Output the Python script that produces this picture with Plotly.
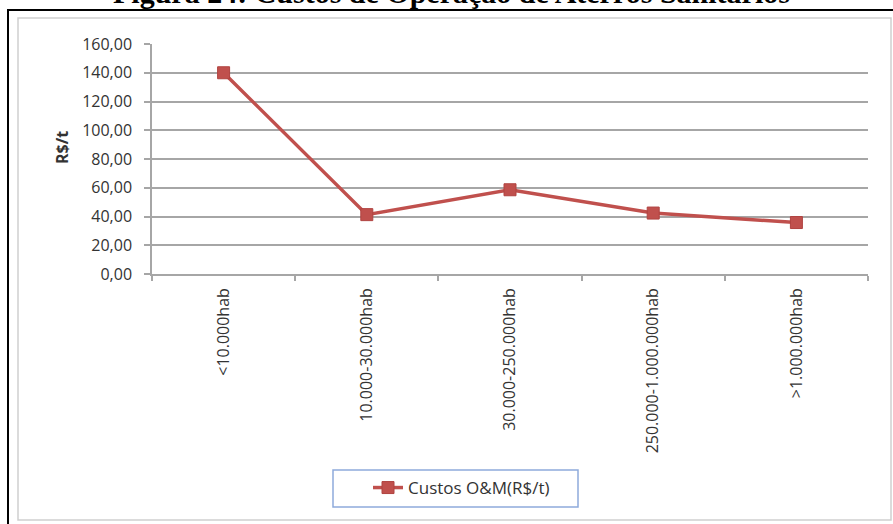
import plotly.graph_objects as go

categories = ["<10.000hab", "10.000-30.000hab", "30.000-250.000hab",
              "250.000-1.000.000hab", ">1.000.000hab"]
custos = [140.0, 41.3, 58.6, 42.4, 35.8]
series_name = "Custos O&M(R$/t)"
title_text = "<b>Figura 24: Custos de Operação de Aterros Sanitários</b>"
y_title = "<b>R$/t</b>"

W, H = 893, 524
L, R, T, B = 152, 868, 44, 274


def px(x):
    return (x - L) / (R - L)


def py(y):
    return (B - y) / (B - T)


red = "#c0504d"
grid = "#a6a6a6"
font = "Open Sans"

fig = go.Figure()
fig.add_trace(go.Scatter(
    x=categories, y=custos, mode="lines+markers", name=series_name,
    line=dict(color=red, width=3.5),
    marker=dict(symbol="square", size=12, color=red,
                line=dict(color="#b04340", width=1)),
))

fig.update_layout(
    width=W, height=H,
    margin=dict(l=L, r=W - R, t=T, b=H - B),
    paper_bgcolor="white", plot_bgcolor="white",
    separators=",.",
    showlegend=True,
    legend=dict(x=px(368), y=py(488), xanchor="left", yanchor="middle",
                font=dict(family=font, size=17, color="#333333"),
                bgcolor="rgba(0,0,0,0)", borderwidth=0),
    xaxis=dict(type="category", range=[-0.5, len(categories) - 0.5],
               showgrid=False, showline=True, linecolor=grid, linewidth=1.5,
               ticks="outside", tickson="boundaries", ticklen=5,
               tickcolor=grid, tickwidth=1.5, tickangle=-90,
               ticklabelstandoff=6,
               tickfont=dict(family=font, size=16, color="#333333")),
    yaxis=dict(range=[0, 160], dtick=20, tickformat=".2f",
               showgrid=True, gridcolor=grid, gridwidth=1.5,
               showline=True, linecolor=grid, linewidth=1.5,
               ticks="outside", ticklen=6, tickcolor=grid, tickwidth=1.5,
               ticklabelstandoff=9, zeroline=False,
               tickfont=dict(family=font, size=16, color="#333333")),
)

# Outer black frame and inner chart border
fig.add_shape(type="rect", xref="paper", yref="paper",
              x0=px(8), x1=px(905), y0=py(535), y1=py(10),
              line=dict(color="black", width=2), layer="below")
fig.add_shape(type="rect", xref="paper", yref="paper",
              x0=px(18), x1=px(891), y0=py(520), y1=py(18),
              line=dict(color="#cfcfcf", width=1.5), layer="below")
# Legend box
fig.add_shape(type="rect", xref="paper", yref="paper",
              x0=px(333), x1=px(578), y0=py(507), y1=py(470),
              line=dict(color="#8eaadb", width=1.5), layer="below")

# Title (cropped at the top of the picture, as in the reference)
fig.add_annotation(text=title_text, xref="paper", yref="paper",
                   x=px(451), y=py(-7), xanchor="center", yanchor="middle",
                   showarrow=False,
                   font=dict(family="Liberation Serif", size=30, color="black"))
# Y axis title
fig.add_annotation(text=y_title, xref="paper", yref="paper",
                   x=px(62), y=py(148), xanchor="center", yanchor="middle",
                   textangle=-90, showarrow=False,
                   font=dict(family=font, size=16, color="#333333"))

fig.write_html("out.html")
